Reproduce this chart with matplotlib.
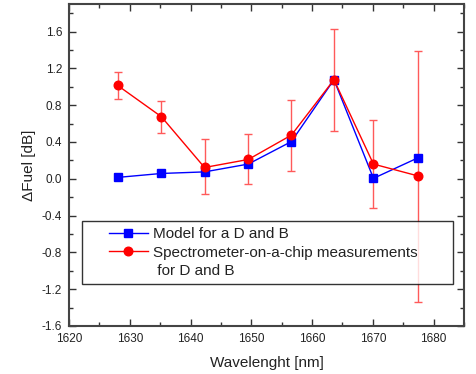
import matplotlib
matplotlib.use("Agg")
import matplotlib.pyplot as plt
from matplotlib.ticker import MultipleLocator, FormatStrFormatter
from matplotlib.legend_handler import HandlerLine2D

plt.rcParams['font.family'] = ['Liberation Sans', 'DejaVu Sans']

wavelength = [1628.0, 1635.2, 1642.3, 1649.5, 1656.6, 1663.6, 1670.1, 1677.5]
model = [0.015, 0.058, 0.075, 0.16, 0.405, 1.077, 0.005, 0.23]
measured = [1.015, 0.675, 0.123, 0.21, 0.475, 1.077, 0.16, 0.03]
err_top = [1.157, 0.845, 0.43, 0.486, 0.86, 1.632, 0.64, 1.39]
err_bot = [0.87, 0.50, -0.17, -0.06, 0.09, 0.52, -0.32, -1.34]

label_model = "Model for a D and B"
label_meas = "Spectrometer-on-a-chip measurements\n for D and B"


class OffsetLineHandler(HandlerLine2D):
    """Draw the legend sample line in the right part of the handle box,
    optionally raised to align with the first text line."""

    def __init__(self, line_len=28.0, y_shift=0.0, **kw):
        super().__init__(**kw)
        self.line_len = line_len
        self.y_shift = y_shift

    def create_artists(self, legend, orig_handle, xdescent, ydescent,
                       width, height, fontsize, trans):
        shift = width - self.line_len
        return super().create_artists(legend, orig_handle, xdescent - shift,
                                      ydescent - self.y_shift, self.line_len,
                                      height, fontsize, trans)


fig = plt.figure(figsize=(4.76, 3.74), dpi=100)
ax = fig.add_axes([69/476, 48/374, 395/476, 322/374])

l1, = ax.plot(wavelength, model, color='blue', lw=1.0, marker='s', ms=5.2,
              label=label_model, zorder=3)
yerr = [[m - b for m, b in zip(measured, err_bot)],
        [t - m for m, t in zip(measured, err_top)]]
ax.errorbar(wavelength, measured, yerr=yerr, fmt='none', ecolor='#ff5a5a',
            elinewidth=1.0, capsize=3, capthick=1.0, zorder=2)
l2, = ax.plot(wavelength, measured, color='red', lw=1.0, marker='o', ms=6.2,
              label=label_meas, zorder=4)

ax.set_xlim(1620, 1685)
ax.set_ylim(-1.6, 1.9)
ax.xaxis.set_major_locator(MultipleLocator(10))
ax.xaxis.set_minor_locator(MultipleLocator(5))
ax.yaxis.set_major_locator(MultipleLocator(0.4))
ax.yaxis.set_minor_locator(MultipleLocator(0.2))
ax.yaxis.set_major_formatter(FormatStrFormatter('%.1f'))

ax.tick_params(which='both', direction='in', top=True, right=True,
               labelsize=8.5, colors='#333333', labelcolor='#222222', width=1.0)
ax.tick_params(which='major', length=5, pad=5)
ax.tick_params(which='minor', length=3)
for s in ax.spines.values():
    s.set_color('#444444')
    s.set_linewidth(1.5)

ax.set_xlabel("Wavelenght [nm]", fontsize=11, color='#222222', labelpad=8)
ax.set_ylabel("\u0394Fuel [dB]", fontsize=11, color='#222222', labelpad=4)

leg = ax.legend(handles=[l1, l2], loc='upper left',
                bbox_to_anchor=(0.033, 0.0, 0.939, 0.326),
                mode='expand', fontsize=11, frameon=True, fancybox=False,
                edgecolor='black', handlelength=3.9, handletextpad=0.33,
                borderpad=0.4, labelspacing=0.35, borderaxespad=0,
                handler_map={l1: OffsetLineHandler(),
                             l2: OffsetLineHandler(y_shift=16.0)})
leg.get_frame().set_linewidth(1.0)
for t in leg.get_texts():
    t.set_color('#222222')
    t.set_linespacing(1.35)

fig.savefig("out.png", dpi=100)
